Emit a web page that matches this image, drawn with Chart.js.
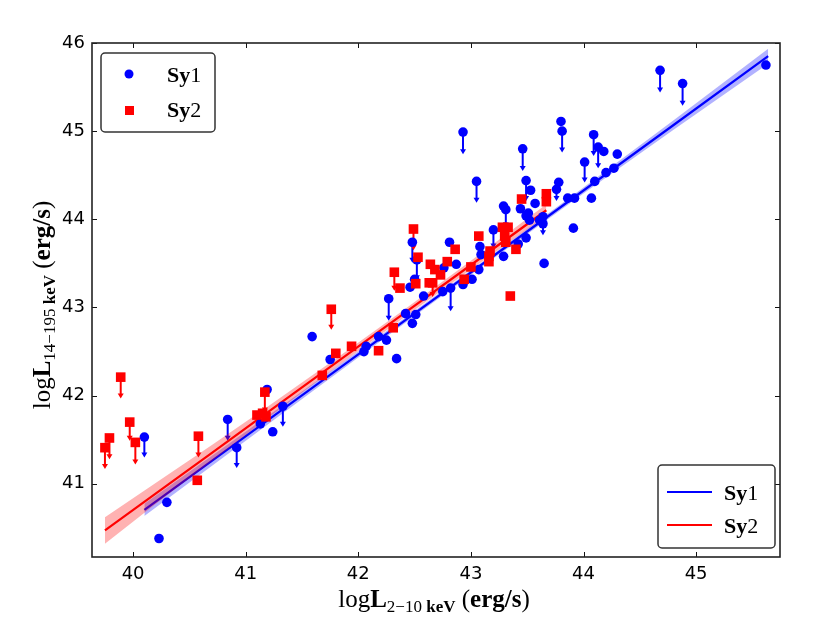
<!DOCTYPE html>
<html>
<head>
<meta charset="utf-8">
<script src="https://cdn.jsdelivr.net/npm/chart.js@4.4.0/dist/chart.umd.min.js"></script>
<style>
  html, body { margin: 0; padding: 0; background: #fff; }
  #wrap { width: 831px; height: 627px; }
</style>
</head>
<body>
<div id="wrap"><canvas id="chart" width="831" height="627"></canvas></div>
<script>
// axis ticks
const xTicks = [40, 41, 42, 43, 44, 45];
const yTicks = [41, 42, 43, 44, 45, 46];

// Sy1 sources (log L 2-10 keV, log L 14-195 keV, upper-limit arrow length)
const sy1X = [40.10, 40.30, 40.23, 40.84, 40.92, 41.19, 41.13, 41.24, 41.33, 41.75, 41.59,
  42.05, 42.07, 42.18, 42.25, 42.34, 42.27, 42.42, 42.48, 42.51, 42.48, 42.52, 42.46, 42.50, 42.58,
  42.81, 42.76, 42.75, 42.82, 42.87, 42.93, 43.01, 43.07, 43.08, 43.20, 43.09,
  42.93, 43.05, 43.46, 43.80, 43.81, 44.09, 44.13, 44.18, 44.30, 44.01, 44.27, 44.20, 44.10, 44.07,
  43.92, 43.86, 43.91, 43.78, 43.76, 43.49, 43.53, 43.57, 43.44, 43.51, 43.29, 43.31, 43.49, 43.64,
  43.64, 43.61, 43.52, 43.29, 43.49, 43.42, 43.65,
  44.68, 44.88, 45.62];
const sy1Y = [41.53, 40.79, 40.38, 41.73, 41.41, 42.07, 41.68, 41.59, 41.88, 42.41, 42.67,
  42.50, 42.56, 42.67, 42.63, 42.42, 43.10, 42.93, 42.82, 42.92, 43.74, 43.54, 43.23, 43.32, 43.13,
  43.74, 43.45, 43.18, 43.22, 43.49, 43.26, 43.32, 43.43, 43.69, 43.88, 43.60,
  44.99, 44.43, 44.80, 45.11, 45.00, 44.96, 44.82, 44.77, 44.74, 44.65, 44.58, 44.53, 44.43, 44.24,
  44.24, 44.24, 43.90, 44.42, 44.34, 44.44, 44.33, 44.18, 44.12, 44.07, 44.15, 44.11, 44.04, 44.03,
  43.95, 43.99, 43.99, 43.58, 43.79, 43.72, 43.50,
  45.69, 45.54, 45.75];
const sy1Lim = [0.22, 0, 0, 0.23, 0.22, 0, 0, 0, 0.22, 0, 0,
  0, 0, 0, 0, 0, 0.24, 0, 0, 0, 0.22, 0.22, 0, 0, 0,
  0, 0, 0, 0.25, 0, 0, 0, 0, 0, 0.2, 0,
  0.24, 0.23, 0.24, 0, 0.23, 0.23, 0.23, 0, 0, 0.22, 0, 0, 0, 0,
  0, 0, 0, 0, 0.12, 0.22, 0, 0, 0, 0, 0, 0.19, 0, 0,
  0.12, 0, 0, 0, 0, 0, 0,
  0.24, 0.24, 0];

// Sy2 sources
const sy2X = [39.75, 39.79, 39.89, 39.97, 40.02, 40.58, 40.57, 41.10, 41.15, 41.18, 41.17, 41.68, 41.80,
  41.76, 41.94, 42.18, 42.31, 42.32, 42.37, 42.49, 42.53, 42.51, 42.64, 42.68, 42.73, 42.63, 42.66,
  42.79, 42.86, 42.94, 43.00, 43.07, 43.16, 43.16,
  43.67, 43.67, 43.45, 43.28, 43.33, 43.31, 43.30, 43.17, 43.40, 43.35];
const sy2Y = [41.41, 41.52, 42.21, 41.70, 41.47, 41.54, 41.04, 41.78, 41.80, 41.76, 42.04, 42.23, 42.48,
  42.98, 42.56, 42.51, 42.77, 43.40, 43.22, 43.89, 43.57, 43.27, 43.49, 43.43, 43.37, 43.28, 43.28,
  43.52, 43.66, 43.32, 43.46, 43.81, 43.52, 43.58,
  44.29, 44.20, 44.23, 43.91, 43.91, 43.74, 43.81, 43.64, 43.66, 43.13];
const sy2Lim = [0.23, 0.23, 0.23, 0.2, 0.24, 0.23, 0, 0, 0, 0, 0.22, 0, 0,
  0.22, 0, 0, 0, 0.2, 0, 0.23, 0, 0, 0, 0, 0, 0, 0.15,
  0, 0, 0, 0, 0, 0, 0,
  0, 0, 0, 0, 0, 0, 0, 0, 0, 0];

// fitted relations with confidence band
const fit1X = [40.1, 40.8, 41.6, 42.4, 43.2, 44.0, 44.8, 45.64];
const fit1Y = [40.704, 41.354, 42.097, 42.840, 43.584, 44.327, 45.070, 45.850];
const fit1Hi = [40.774, 41.409, 42.137, 42.870, 43.611, 44.362, 45.125, 45.935];
const fit1Lo = [40.634, 41.299, 42.057, 42.810, 43.557, 44.292, 45.015, 45.765];

const fit2X = [39.75, 40.2, 40.7, 41.2, 41.8, 42.4, 43.0, 43.67];
const fit2Y = [40.473, 40.889, 41.352, 41.815, 42.371, 42.927, 43.482, 44.103];
const fit2Hi = [40.62, 41.01, 41.44, 41.88, 42.42, 42.97, 43.53, 44.17];
const fit2Lo = [40.32, 40.77, 41.26, 41.75, 42.32, 42.88, 43.43, 44.04];

const BLUE = '#0000ff';
const RED = '#ff0000';

const pts = (xs, ys) => xs.map((v, i) => ({ x: v, y: ys[i] }));

// upper limit arrows below the markers
const limitArrows = {
  id: 'limitArrows',
  beforeDatasetsDraw(chart) {
    const { ctx, scales: { x, y } } = chart;
    const draw = (xs, ys, lens, color) => {
      ctx.strokeStyle = color;
      ctx.fillStyle = color;
      ctx.lineWidth = 2;
      xs.forEach((xv, i) => {
        if (!lens[i]) return;
        const px = x.getPixelForValue(xv);
        const py = y.getPixelForValue(ys[i]);
        const pe = y.getPixelForValue(ys[i] - lens[i]);
        ctx.beginPath();
        ctx.moveTo(px, py);
        ctx.lineTo(px, pe - 3);
        ctx.stroke();
        ctx.beginPath();
        ctx.moveTo(px - 3, pe - 4);
        ctx.lineTo(px + 3, pe - 4);
        ctx.lineTo(px, pe + 1);
        ctx.closePath();
        ctx.fill();
      });
    };
    ctx.save();
    draw(sy1X, sy1Y, sy1Lim, BLUE);
    draw(sy2X, sy2Y, sy2Lim, RED);
    ctx.restore();
  }
};

// text with bold parts and subscripts
function richWidth(ctx, segs) {
  let w = 0;
  segs.forEach(s => { ctx.font = s.f; w += ctx.measureText(s.t).width; });
  return w;
}
function drawRich(ctx, segs, x, y) {
  let cx = x;
  segs.forEach(s => {
    ctx.font = s.f;
    ctx.fillText(s.t, cx, y + (s.dy || 0));
    cx += ctx.measureText(s.t).width;
  });
}

const SERIF = '"Liberation Serif", "DejaVu Serif", serif';
const big = '22px ' + SERIF;
const bigB = 'bold 22px ' + SERIF;
const tBig = '25px ' + SERIF;
const tBigB = 'bold 25px ' + SERIF;
const tSub = '17px ' + SERIF;
const tSubB = 'bold 17px ' + SERIF;

const frameAndText = {
  id: 'frameAndText',
  afterDraw(chart) {
    const { ctx, chartArea: a, scales: { x, y } } = chart;
    ctx.save();
    // inward ticks on all four sides
    ctx.strokeStyle = '#111';
    ctx.lineWidth = 1;
    ctx.beginPath();
    xTicks.forEach(v => {
      const p = Math.round(x.getPixelForValue(v)) + 0.5;
      ctx.moveTo(p, a.bottom); ctx.lineTo(p, a.bottom - 5);
      ctx.moveTo(p, a.top); ctx.lineTo(p, a.top + 5);
    });
    yTicks.forEach(v => {
      const p = Math.round(y.getPixelForValue(v)) + 0.5;
      ctx.moveTo(a.left, p); ctx.lineTo(a.left + 5, p);
      ctx.moveTo(a.right, p); ctx.lineTo(a.right - 5, p);
    });
    ctx.stroke();
    ctx.lineWidth = 1.6;
    ctx.strokeStyle = '#222';
    ctx.strokeRect(a.left, a.top, a.right - a.left, a.bottom - a.top);

    // legends
    const box = (x0, y0, w, h) => {
      ctx.beginPath();
      ctx.roundRect(x0, y0, w, h, 4);
      ctx.fillStyle = '#fff';
      ctx.fill();
      ctx.lineWidth = 1.5;
      ctx.strokeStyle = '#333';
      ctx.stroke();
    };
    ctx.textBaseline = 'alphabetic';
    ctx.textAlign = 'left';
    const label = (n, tx, ty) => {
      ctx.fillStyle = '#000';
      drawRich(ctx, [{ t: 'Sy', f: bigB }, { t: n, f: big }], tx, ty);
    };

    // upper-left: markers
    const lx = a.left + 9, ly = a.top + 10;
    box(lx, ly, 114, 79);
    ctx.fillStyle = BLUE;
    ctx.beginPath();
    ctx.arc(lx + 28, ly + 21, 4.5, 0, Math.PI * 2);
    ctx.fill();
    ctx.fillStyle = RED;
    ctx.fillRect(lx + 24, ly + 53, 9, 9);
    label('1', lx + 66, ly + 29);
    label('2', lx + 66, ly + 64);

    // lower-right: lines
    const rx = a.right - 122, ry = a.bottom - 92;
    box(rx, ry, 117, 83);
    ctx.lineWidth = 2;
    ctx.strokeStyle = BLUE;
    ctx.beginPath(); ctx.moveTo(rx + 9, ry + 27); ctx.lineTo(rx + 54, ry + 27); ctx.stroke();
    ctx.strokeStyle = RED;
    ctx.beginPath(); ctx.moveTo(rx + 9, ry + 60); ctx.lineTo(rx + 54, ry + 60); ctx.stroke();
    label('1', rx + 66, ry + 35);
    label('2', rx + 66, ry + 68);

    // axis titles
    ctx.fillStyle = '#000';
    const xt = [
      { t: 'log', f: tBig }, { t: 'L', f: tBigB },
      { t: '2\u221210', f: tSub, dy: 5 }, { t: ' keV', f: tSubB, dy: 5 },
      { t: ' (', f: tBig }, { t: 'erg/s', f: tBigB }, { t: ')', f: tBig }
    ];
    const xw = richWidth(ctx, xt);
    drawRich(ctx, xt, (a.left + a.right) / 2 - xw / 2 - 2, 607);

    const yt = [
      { t: 'log', f: tBig }, { t: 'L', f: tBigB },
      { t: '14\u2212195', f: tSub, dy: 5 }, { t: ' keV', f: tSubB, dy: 5 },
      { t: ' (', f: tBig }, { t: 'erg/s', f: tBigB }, { t: ')', f: tBig }
    ];
    const yw = richWidth(ctx, yt);
    ctx.translate(50, 305);
    ctx.rotate(-Math.PI / 2);
    drawRich(ctx, yt, -yw / 2, 0);
    ctx.restore();
  }
};

const tickFont = { family: '"DejaVu Sans", sans-serif', size: 18 };

new Chart(document.getElementById('chart'), {
  type: 'scatter',
  data: {
    datasets: [
      { type: 'line', data: pts(fit1X, fit1Lo), borderWidth: 0, pointRadius: 0, fill: false, order: 6 },
      { type: 'line', data: pts(fit1X, fit1Hi), borderWidth: 0, pointRadius: 0,
        fill: '-1', backgroundColor: 'rgba(0,0,255,0.3)', order: 6 },
      { type: 'line', data: pts(fit1X, fit1Y), borderColor: BLUE, borderWidth: 2.2, pointRadius: 0, order: 5 },
      { type: 'line', data: pts(fit2X, fit2Lo), borderWidth: 0, pointRadius: 0, fill: false, order: 4 },
      { type: 'line', data: pts(fit2X, fit2Hi), borderWidth: 0, pointRadius: 0,
        fill: '-1', backgroundColor: 'rgba(255,0,0,0.3)', order: 4 },
      { type: 'line', data: pts(fit2X, fit2Y), borderColor: RED, borderWidth: 2.2, pointRadius: 0, order: 3 },
      { label: 'Sy1', data: pts(sy1X, sy1Y), pointStyle: 'circle', pointRadius: 4.8,
        backgroundColor: BLUE, borderWidth: 0, order: 2 },
      { label: 'Sy2', data: pts(sy2X, sy2Y), pointStyle: 'rect', pointRadius: 6.8,
        backgroundColor: RED, borderWidth: 0, order: 1 }
    ]
  },
  options: {
    responsive: false,
    animation: false,
    devicePixelRatio: 1,
    layout: { padding: { left: 0, top: 43, right: 51, bottom: 0 } },
    plugins: { legend: { display: false }, tooltip: { enabled: false } },
    elements: { line: { tension: 0 } },
    scales: {
      x: {
        type: 'linear', min: 39.635, max: 45.745,
        afterBuildTicks: s => { s.ticks = xTicks.map(v => ({ value: v })); },
        afterFit: s => { s.height = 70; },
        grid: { display: false, drawTicks: false },
        border: { display: false },
        ticks: { font: tickFont, color: '#000', padding: 7, maxRotation: 0 }
      },
      y: {
        type: 'linear', min: 40.17, max: 46.0,
        afterBuildTicks: s => { s.ticks = yTicks.map(v => ({ value: v })); },
        afterFit: s => { s.width = 92; },
        grid: { display: false, drawTicks: false },
        border: { display: false },
        ticks: { font: tickFont, color: '#000', padding: 7 }
      }
    }
  },
  plugins: [limitArrows, frameAndText]
});
</script>
</body>
</html>
